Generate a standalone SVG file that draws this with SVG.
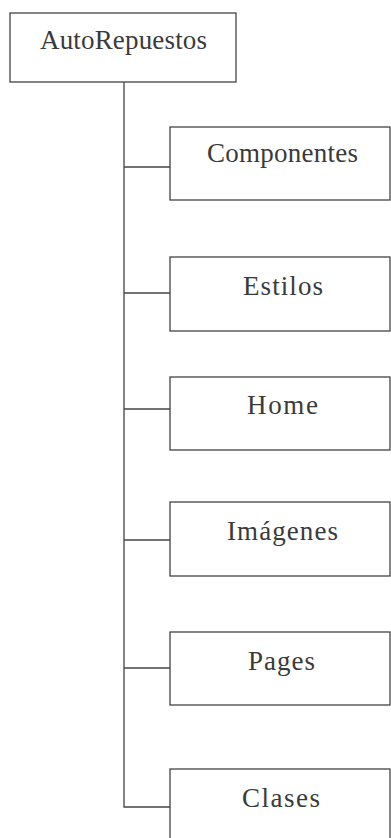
<svg xmlns="http://www.w3.org/2000/svg" width="391" height="838" viewBox="0 0 391 838">
<style>
.box{fill:#fff;stroke:#444;stroke-width:1.3}
.lbl{font-family:"Liberation Serif","Times New Roman",serif;font-size:27px;fill:#3a3a3a;text-anchor:middle}
.con{fill:none;stroke:#444;stroke-width:1.3}
</style>
<rect width="391" height="838" fill="#fff"/>
<g id="connectors">
<path class="con" d="M124,82 V807 H170"/>
<path class="con" d="M124,167 H170"/>
<path class="con" d="M124,293 H170"/>
<path class="con" d="M124,409 H170"/>
<path class="con" d="M124,540 H170"/>
<path class="con" d="M124,668 H170"/>
</g>
<g id="n-autorepuestos">
<rect class="box" x="10" y="13" width="226" height="69"/>
<text class="lbl" x="123.5" y="49" textLength="167" lengthAdjust="spacing">AutoRepuestos</text>
</g>
<g id="n-componentes">
<rect class="box" x="170" y="127" width="220" height="73"/>
<text class="lbl" x="282.5" y="162" textLength="151" lengthAdjust="spacing">Componentes</text>
</g>
<g id="n-estilos">
<rect class="box" x="170" y="257" width="220" height="74"/>
<text class="lbl" x="283" y="295" textLength="80" lengthAdjust="spacing">Estilos</text>
</g>
<g id="n-home">
<rect class="box" x="170" y="377" width="220" height="73"/>
<text class="lbl" x="282.5" y="414" textLength="71" lengthAdjust="spacing">Home</text>
</g>
<g id="n-imagenes">
<rect class="box" x="170" y="502" width="220" height="74"/>
<text class="lbl" x="282.5" y="540" textLength="111" lengthAdjust="spacing">Imágenes</text>
</g>
<g id="n-pages">
<rect class="box" x="170" y="632" width="220" height="73"/>
<text class="lbl" x="281.5" y="670" textLength="67" lengthAdjust="spacing">Pages</text>
</g>
<g id="n-clases">
<rect class="box" x="170" y="769" width="220" height="80"/>
<text class="lbl" x="281" y="807" textLength="78" lengthAdjust="spacing">Clases</text>
</g>
</svg>
